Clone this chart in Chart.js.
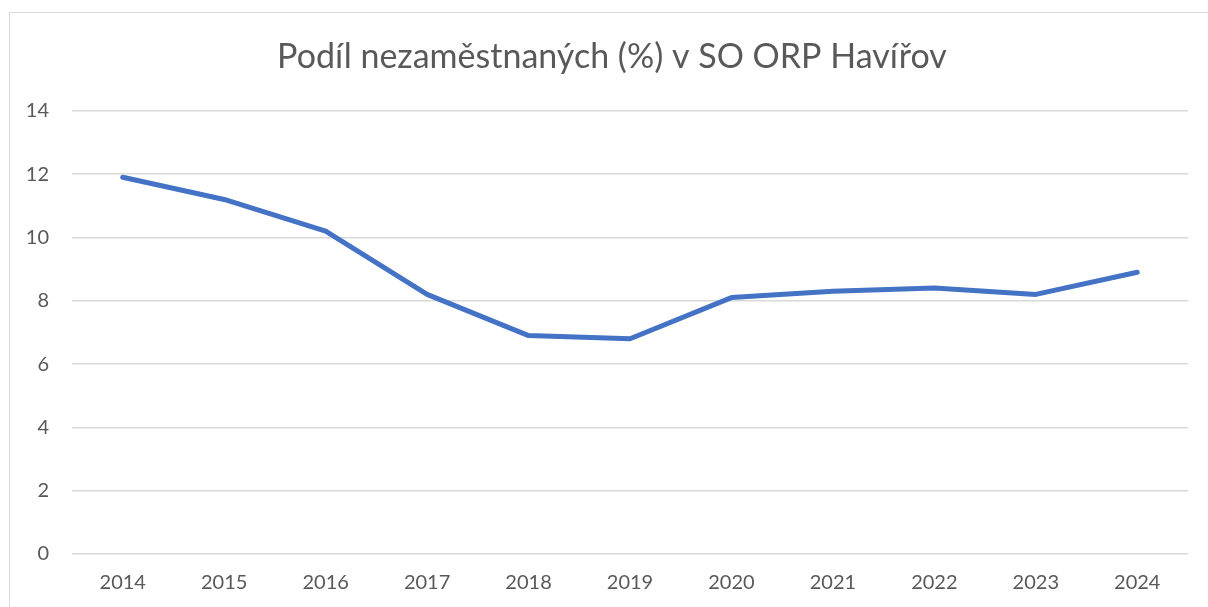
<!DOCTYPE html>
<html>
<head>
<meta charset="utf-8">
<script src="https://cdn.jsdelivr.net/npm/chart.js@4"></script>
<style>
  html, body { margin: 0; padding: 0; background: #fff; overflow: hidden; }
  #frame { position: absolute; left: 9px; top: 12px; width: 1300px; height: 700px; border: 1px solid #d9d9d9; }
  #wrap { position: absolute; left: 0; top: 0; width: 1208px; height: 607px; }
</style>
</head>
<body>
<div id="frame"></div>
<div id="wrap"><canvas id="chart" width="1208" height="607"></canvas></div>
<script>
const years = ["2014", "2015", "2016", "2017", "2018", "2019", "2020", "2021", "2022", "2023", "2024"];
const unemployment = [11.9, 11.2, 10.2, 8.2, 6.9, 6.8, 8.1, 8.3, 8.4, 8.2, 8.9];
const titleText = "Podíl nezaměstnaných (%) v SO ORP Havířov";

const textColor = "#595959";
const gridColor = "#d9d9d9";
const fontFamily = "Lato, 'Open Sans', sans-serif";

new Chart(document.getElementById("chart"), {
  type: "line",
  data: {
    labels: years,
    datasets: [{
      label: "Podíl nezaměstnaných",
      data: unemployment,
      borderColor: "#4472c4",
      borderWidth: 5,
      pointRadius: 0,
      tension: 0,
      borderCapStyle: "round",
      borderJoinStyle: "round"
    }]
  },
  options: {
    responsive: false,
    animation: false,
    layout: { padding: { left: 16, right: 0, top: 0, bottom: 0 } },
    plugins: {
      legend: { display: false },
      tooltip: { enabled: false },
      title: {
        display: true,
        text: titleText,
        color: textColor,
        font: { family: fontFamily, size: 34, weight: "normal", lineHeight: 1.2 },
        padding: { top: 37, bottom: 33 }
      }
    },
    scales: {
      x: {
        offset: true,
        grid: { display: false },
        border: { display: false },
        ticks: {
          color: textColor,
          font: { family: fontFamily, size: 20 },
          padding: 9,
          maxRotation: 0
        },
        afterFit: s => { s.height = 53; }
      },
      y: {
        min: 0,
        max: 14,
        grid: { color: gridColor, lineWidth: 1.5, drawTicks: false },
        border: { display: false },
        ticks: {
          stepSize: 2,
          color: textColor,
          font: { family: fontFamily, size: 20 },
          padding: 23
        },
        afterFit: s => { s.width = 56; }
      },
      // empty right-hand spacer so the plot ends where the original does
      spacer: {
        type: "linear",
        position: "right",
        grid: { display: false },
        border: { display: false },
        ticks: { display: false },
        afterFit: s => { s.width = 20; }
      }
    }
  }
});
</script>
</body>
</html>
